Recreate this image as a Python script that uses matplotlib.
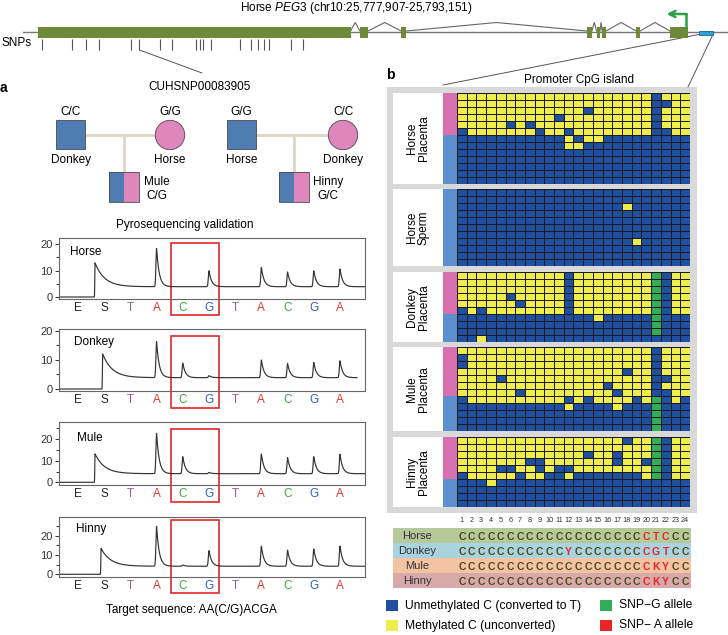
import numpy as np
import matplotlib.pyplot as plt
from matplotlib.patches import Rectangle, Circle, ConnectionPatch
from matplotlib.colors import ListedColormap
from matplotlib.transforms import blended_transform_factory

plt.rcParams['font.family'] = ['Liberation Sans', 'DejaVu Sans']
plt.rcParams['mathtext.fontset'] = 'custom'
plt.rcParams['mathtext.rm'] = 'Liberation Sans'
plt.rcParams['mathtext.it'] = 'Liberation Sans:italic'

# ---------------- data ----------------
# horse PEG3 gene model, kb from the left end of the drawing
exon_start = [0.00, 7.55, 8.52, 12.87, 13.10, 13.23, 14.03, 14.82]
exon_end = [7.33, 7.74, 8.63, 12.99, 13.18, 13.32, 14.12, 15.24]
snp_kb = [0.09, 0.80, 1.12, 1.42, 2.19, 2.38, 2.87, 3.14, 3.70, 3.79,
          3.87, 4.06, 4.74, 4.99, 5.15, 5.31, 5.42, 5.94, 6.22]
cpg_island_kb = [15.50, 15.83]
tss_kb = 15.19
backbone_kb = [-0.35, 16.3]
snp_name = 'CUHSNP00083905'
snp_index = 5

# pedigree: father, genotype, mother, genotype, offspring, genotype
crosses = [('Donkey', 'C/C', 'Horse', 'G/G', 'Mule', 'C/G'),
           ('Horse', 'G/G', 'Donkey', 'C/C', 'Hinny', 'G/C')]

# pyrosequencing (peak tops per dispensation)
dispensation = ['E', 'S', 'T', 'A', 'C', 'G', 'T', 'A', 'C', 'G', 'A']
pyro_samples = ['Horse', 'Donkey', 'Mule', 'Hinny']
horse_peaks = [0, 12.9, 0, 18.4, 0, 9.9, 0, 11.2, 9.5, 9.9, 10.6]
donkey_peaks = [0, 12.1, 0, 16.3, 8.9, 4.6, 0, 10.0, 8.8, 9.1, 9.7]
mule_peaks = [0, 13.2, 0, 22.8, 11.9, 4.6, 0, 13.2, 11.5, 11.9, 13.0]
hinny_peaks = [0, 13.5, 0, 25.0, 4.8, 12.3, 0, 14.7, 12.6, 13.2, 14.7]
baselines = [3.9, 3.9, 4.0, 4.2]
s_onset = [0.65, 0.94, 0.65, 0.88]
run_end = [10.95, 10.65, 10.95, 10.95]

# bisulfite clones: B unmethylated, Y methylated, G SNP-G allele
horse_placenta = [
    "YYYYYYYYYYYYYYYYYYYYBYYY",
    "YYYYYYYYYYYYYYYYYYYYBBYY",
    "YYYYYYYYYYYYYBYYYYYYBYYY",
    "YYYYYYYYYYBYYYYYYYYYBYYY",
    "YYYYYBYBYYYYYYYYYYYYBYYY",
    "BYYYYYYYBYYBYYYYYYYYBBYY",
    "BBBBBBBBBBBYBYYBBBBBBBBB",
    "BBBBBBBBBBBYYBBBBBBBBBBB",
    "BBBBBBBBBBBBBBBBBBBBBBBB",
    "BBBBBBBBBBBBBBBBBBBBBBBB",
    "BBBBBBBBBBBBBBBBBBBBBBBB",
    "BBBBBBBBBBBBBBBBBBBBBBBB",
    "BBBBBBBBBBBBBBBBBBBBBBBB",
]
horse_sperm = [
    "BBBBBBBBBBBBBBBBBBBBBBBB",
    "BBBBBBBBBBBBBBBBBBBBBBBB",
    "BBBBBBBBBBBBBBBBBYBBBBBB",
    "BBBBBBBBBBBBBBBBBBBBBBBB",
    "BBBBBBBBBBBBBBBBBBBBBBBB",
    "BBBBBBBBBBBBBBBBBBBBBBBB",
    "BBBBBBBBBBBBBBBBBBBBBBBB",
    "BBBBBBBBBBBBBBBBBBYBBBBB",
    "BBBBBBBBBBBBBBBBBBBBBBBB",
    "BBBBBBBBBBBBBBBBBBBBBBBB",
    "BBBBBBBBBBBBBBBBBBBBBBBB",
]
donkey_placenta = [
    "YYYYYYYYYYYBYYYYYYYYGBYY",
    "YYYYYYYYYYYBYYYYYYYYGBYY",
    "YYYYYYYYYYYBYYYYYYYYGBYY",
    "YYYYYBYYYYYBYYYYYYYYGBYY",
    "YYYYYYBYYYYBYYYYYYYYGBYY",
    "BYBYYYYYYYYBYYYYYYYYGBYY",
    "BBBBBBBBBBBBBBYBBBBBGBBB",
    "BBBBBBBBBBBBBBBBBBBBGBBB",
    "BBBBBBBBBBBBBBBBBBBBGBBB",
    "BBYBBBBBBBBBBBBBBBBBBBBB",
]
mule_placenta = [
    "YYYYYYYYYYYYYYYYYYYYBYYY",
    "BYYYYYYYYYYYYYYYYYYYBYYY",
    "BYYYYYYYYYYYYYYYYYYYBYYY",
    "YYYYYYYYYYYYYYYYYBYYBYYY",
    "YYYYBYYYYYYYYYYYYYYYBBYY",
    "YYYYYYYYYYYYYYYBYYYYBYYY",
    "YYYYYYBYYYYYYYYYBYYYBBYY",
    "BYYYYYYYYYYBYBYYYYBYGBYB",
    "BBBBBBBBBBBYBBBBYBBBGBBB",
    "BBBBBBBBBBBBBBBBBBBBGBBB",
    "BBBBBBBBBBBBBBBBBBBBGBBB",
    "BBBBBBBBBBBBBBBBBBBBGBBB",
]
hinny_placenta = [
    "YYYYYYYYYYYYYYYYYBYYGBYY",
    "YYYYYYYYYYYYYYYYYYYYGBYY",
    "YYYYYYYYYYYYYBYYBYYYGBYY",
    "YYYYYYYBBYYYYYYYBYYBGBYY",
    "YYYYBBYYBYBBYYYYYYYYGBYY",
    "BYYYYYBYYBBYBBBBBBBYGBYY",
    "BBBYBBBBBBBBBBBBBBBBBBBB",
    "BBBBBBBBBBBBBBBBBBBBBBBB",
    "BBBBBBBBBBBBBBBBBBBBBBBB",
    "BBBBBBBBBBBBBBBBBBBBBBBB",
]
panel_names = ['Horse\nPlacenta', 'Horse\nSperm', 'Donkey\nPlacenta',
               'Mule\nPlacenta', 'Hinny\nPlacenta']
maternal_clones = [6, 0, 6, 7, 6]

# CpG sequence table
seq_names = ['Horse', 'Donkey', 'Mule', 'Hinny']
seq_rows = ["CCCCCCCCCCCCCCCCCCCCTCCC",
            "CCCCCCCCCCCYCCCCCCCCGTCC",
            "CCCCCCCCCCCCCCCCCCCCKYCC",
            "CCCCCCCCCCCCCCCCCCCCKYCC"]
seq_red = [[20, 21, 22], [12, 20, 21, 22], [20, 21, 22], [20, 21, 22]]

legend_labels = ['Unmethylated C (converted to T)', 'Methylated C (unconverted)',
                 'SNP\u2212G allele', 'SNP\u2212 A allele']

# ---------------- style ----------------
W, H = 728, 635
exon_green = '#6d8a3a'
sq_blue = '#4f7db3'
sq_pink = '#df86bc'
link_col = '#ddd6c8'
c_unmeth = '#1f4f9f'
c_meth = '#efec4e'
c_snpg = '#2fae57'
c_snpa = '#e8262a'
side_pink = '#d870b0'
side_blue = '#5b8fd0'
disp_colors = {'E': '#222222', 'S': '#222222', 'T': '#9b59a8',
               'A': '#e23a2e', 'C': '#3aa845', 'G': '#3060c0'}
band_colors = ['#b5c99a', '#a9d3df', '#f4c3a1', '#d7a9a9']

fig = plt.figure(figsize=(W / 100, H / 100), dpi=100)


def px_axes(x0, y0, x1, y1):
    return fig.add_axes([x0 / W, 1 - y1 / H, (x1 - x0) / W, (y1 - y0) / H])


ov = px_axes(0, 0, W, H)
ov.set_xlim(0, W)
ov.set_ylim(H, 0)
ov.axis('off')

# ---------------- gene model ----------------
gax = px_axes(0, 0, W, 60)
kb_per_px = 15.244 / 650
gax.set_xlim(-38 * kb_per_px, (W - 38) * kb_per_px)
gax.set_ylim(60, 0)
gax.axis('off')
gax.plot(backbone_kb, [32, 32], color='#777777', lw=1, zorder=1)
for s, e in zip(exon_start, exon_end):
    gax.add_patch(Rectangle((s, 27), e - s, 10.5, facecolor=exon_green,
                            edgecolor='none', zorder=2))
for e, s in zip(exon_end[:-1], exon_start[1:]):
    gax.plot([e, (e + s) / 2, s], [31, 22.5, 31], color='#666666', lw=0.8, zorder=1)
gax.vlines(snp_kb, 39, 50, color='#555555', lw=0.8)
gax.add_patch(Rectangle((cpg_island_kb[0], 30.5), cpg_island_kb[1] - cpg_island_kb[0], 4.5,
                        facecolor='#2ea0dc', edgecolor='#1e6796', lw=0.6, zorder=3))
gax.plot([tss_kb, tss_kb], [27, 14], color='#2f9e4a', lw=1.8, zorder=3)
gax.annotate('', xy=(tss_kb - 0.45, 14), xytext=(tss_kb + 0.02, 14),
             arrowprops=dict(arrowstyle='->', color='#2f9e4a', lw=1.8,
                             mutation_scale=11, shrinkA=0, shrinkB=0))

ov.text(356, 8, r'Horse $\mathit{PEG3}$ (chr10:25,777,907-25,793,151)',
        ha='center', va='center', fontsize=8.5)
ov.text(1, 43.5, 'SNPs', ha='left', va='center', fontsize=8.5)

for xyA, xyB in [((snp_kb[snp_index], 50), (202, 73)),
                 ((cpg_island_kb[0], 34.5), (443, 85)),
                 ((cpg_island_kb[1], 34.5), (688, 87))]:
    con = ConnectionPatch(xyA=xyA, coordsA=gax.transData, xyB=xyB,
                          coordsB=ov.transData, color='#555555', lw=0.7)
    ov.add_artist(con)

# ---------------- panel a: pedigree ----------------
ov.text(0, 88, 'a', fontsize=10, fontweight='bold', ha='left', va='center')
ov.text(200, 87, snp_name, ha='center', va='center', fontsize=8.5)
pedigree_x = [(70.5, 170, 124, 157), (241.5, 343, 293.5, 328)]
for (fa, fa_g, mo, mo_g, ch, ch_g), (xf, xm, xc, xl) in zip(crosses, pedigree_x):
    ov.plot([xf, xm], [135, 135], color=link_col, lw=2, zorder=1)
    ov.plot([xc, xc], [135, 172], color=link_col, lw=2, zorder=1)
    ov.add_patch(Rectangle((xf - 14.5, 120), 29, 29, fc=sq_blue, ec='#4a4a4a', lw=0.6, zorder=2))
    ov.add_patch(Circle((xm, 135), 14.7, fc=sq_pink, ec='#4a4a4a', lw=0.6, zorder=2))
    ov.add_patch(Rectangle((xc - 15, 172), 15, 30, fc=sq_blue, ec='none', zorder=2))
    ov.add_patch(Rectangle((xc, 172), 15, 30, fc=sq_pink, ec='none', zorder=2))
    ov.add_patch(Rectangle((xc - 15, 172), 30, 30, fc='none', ec='#4a4a4a', lw=0.6, zorder=3))
    ov.text(xf, 112, fa_g, ha='center', va='center', fontsize=8.5)
    ov.text(xm, 112, mo_g, ha='center', va='center', fontsize=8.5)
    ov.text(xf, 160, fa, ha='center', va='center', fontsize=8.5)
    ov.text(xm, 160, mo, ha='center', va='center', fontsize=8.5)
    ov.text(xl, 182, ch, ha='center', va='center', fontsize=8.5)
    ov.text(xl, 196, ch_g, ha='center', va='center', fontsize=8.5)

# ---------------- panel a: pyrograms ----------------
ov.text(185, 225, 'Pyrosequencing validation', ha='center', va='center', fontsize=8.5)
ov.text(191, 610, 'Target sequence: AA(C/G)ACGA', ha='center', va='center', fontsize=8.5)


def pyrogram(x, tops, base, s_pos, end):
    y = np.zeros_like(x)
    after = x >= s_pos
    y[after] = base + (tops[1] - base) * np.exp(-(x[after] - s_pos) / 0.36)
    y[~after] = tops[1] * np.exp(-((x[~after] - s_pos) / 0.012) ** 2)
    for i, top in enumerate(tops):
        if i < 2 or top <= base:
            continue
        d = x - i
        y += np.where(d < 0, (top - base) * np.exp(-(d / 0.035) ** 2),
                      (top - base) * np.exp(-d / 0.1))
    y[x > end] = np.nan
    return y


trace_box = [(59, 238, 365, 299), (59, 329, 365, 391),
             (59, 422, 365, 485), (59, 517, 365, 577)]
trace_ylim = [(-0.75, 22.3), (-0.67, 20.6), (-1.25, 28.0), (-1.4, 29.8)]
label_xy = [(0.036, 0.775), (0.05, 0.79), (0.06, 0.75), (0.056, 0.80)]
red_top = [0.91, 0.89, 0.89, 0.95]
all_peaks = [horse_peaks, donkey_peaks, mule_peaks, hinny_peaks]

for k, name in enumerate(pyro_samples):
    ax = px_axes(*trace_box[k])
    x0, x1 = -0.725, 10.954
    x = np.linspace(x0, x1, 3000)
    y = pyrogram(x, all_peaks[k], baselines[k], s_onset[k], run_end[k])
    ax.plot(x, y, color='#333333', lw=0.85)
    ax.set_xlim(x0, x1)
    ax.set_ylim(*trace_ylim[k])
    ax.set_yticks([0, 10, 20])
    ax.set_yticks([v for v in (5, 15, 25) if v < trace_ylim[k][1]], minor=True)
    ax.tick_params(axis='y', which='major', length=3, width=0.7, labelsize=8, pad=1.5,
                   colors='#333333')
    ax.tick_params(axis='y', which='minor', length=2, width=0.7, colors='#333333')
    ax.set_xticks(range(len(dispensation)))
    ax.set_xticklabels(dispensation)
    ax.tick_params(axis='x', length=0, labelsize=8.5, pad=2.5)
    for lbl, d in zip(ax.get_xticklabels(), dispensation):
        lbl.set_color(disp_colors[d])
    for sp in ax.spines.values():
        sp.set_color('#666666')
        sp.set_linewidth(0.8)
    ax.text(*label_xy[k], name, transform=ax.transAxes, fontsize=8.5, va='center')
    tr = blended_transform_factory(ax.transData, ax.transAxes)
    ax.add_patch(Rectangle((3.55, -0.27), 1.85, red_top[k] + 0.27, transform=tr,
                           fill=False, edgecolor='#e0282a', lw=1.2, clip_on=False))

# ---------------- panel b: methylation clones ----------------
ov.text(390, 75, 'b', fontsize=10, fontweight='bold', ha='center', va='center')
ov.text(579, 80, 'Promoter CpG island', ha='center', va='center', fontsize=8.5)
ov.add_patch(Rectangle((387, 87), 310, 426, fc='#d9d9d9', ec='none', zorder=0))

code = {'B': 0, 'Y': 1, 'G': 2}
meth_cmap = ListedColormap([c_unmeth, c_meth, c_snpg])
panels = [horse_placenta, horse_sperm, donkey_placenta, mule_placenta, hinny_placenta]
panel_top = [93, 189, 272, 347, 437]
for rows, label, n_pink, y0 in zip(panels, panel_names, maternal_clones, panel_top):
    n = len(rows)
    ax = px_axes(393, y0, 690, y0 + 7 * n)
    grid = np.array([[code[c] for c in r] for r in rows])
    ax.pcolormesh(np.arange(25), np.arange(n + 1), grid, cmap=meth_cmap,
                  vmin=-0.5, vmax=2.5, edgecolors='#1a1a1a', linewidth=0.6)
    ax.set_xlim(-6.59, 24)
    ax.set_ylim(n, 0)
    if n_pink:
        ax.add_patch(Rectangle((-1.42, 0), 1.38, n_pink, fc=side_pink, ec='none'))
    ax.add_patch(Rectangle((-1.42, n_pink), 1.38, n - n_pink, fc=side_blue, ec='none'))
    ax.text(-4.02, n / 2, label, rotation=90, ha='center', va='center',
            fontsize=8.5, linespacing=1.0)
    ax.set_xticks([])
    ax.set_yticks([])
    for sp in ax.spines.values():
        sp.set_visible(False)

# sequence table
tax = px_axes(393, 513, 690.7, 588.3)
tax.set_xlim(-6.59, 24.07)
tax.set_ylim(4, -1.02)
tax.axis('off')
for j in range(24):
    tax.text(j + 0.5, -0.5, str(j + 1), ha='center', va='center', fontsize=5.2,
             color='#333333')
for i, (nm, seq) in enumerate(zip(seq_names, seq_rows)):
    tax.axhspan(i, i + 1, color=band_colors[i], lw=0)
    tax.text(-4.1, i + 0.5, nm, ha='center', va='center', fontsize=8, color='#333333')
    for j, ch in enumerate(seq):
        col = c_snpa if (j + 1) in seq_red[i] else '#4d4a1e'
        tax.text(j + 0.5, i + 0.55, ch, ha='center', va='center', fontsize=7.5,
                 fontweight='bold', color=col)

# legend
legend_colors = [c_unmeth, c_meth, c_snpg, c_snpa]
legend_xy = [(386, 600), (386, 620), (600, 600), (600, 620)]
for lab, colr, (lx, ly) in zip(legend_labels, legend_colors, legend_xy):
    ov.add_patch(Rectangle((lx, ly), 12, 11, fc=colr, ec='none'))
    ov.text(lx + 19, ly + 5.5, lab, ha='left', va='center', fontsize=8.7)

fig.savefig('out.png', dpi=100)
